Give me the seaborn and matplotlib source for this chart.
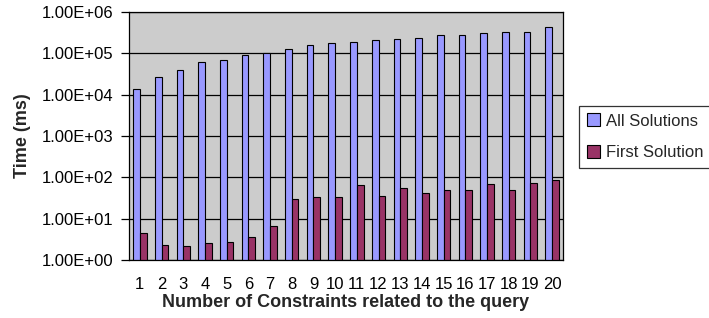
import numpy as np
import pandas as pd
import matplotlib
matplotlib.use("Agg")
import matplotlib.pyplot as plt
import seaborn as sns
from matplotlib.ticker import FixedLocator, FuncFormatter

categories = [str(i) for i in range(1, 21)]
all_solutions = [1.35e4, 2.75e4, 3.85e4, 6.3e4, 6.8e4, 9.3e4, 1.02e5, 1.28e5, 1.62e5, 1.74e5,
                 1.9e5, 2.05e5, 2.23e5, 2.4e5, 2.8e5, 2.8e5, 3.1e5, 3.3e5, 3.3e5, 4.3e5]
first_solution = [4.5, 2.36, 2.2, 2.6, 2.8, 3.6, 6.7, 30, 33, 33,
                  64, 36, 54, 42.5, 50, 50, 69, 50, 74, 88]
series_names = ["All Solutions", "First Solution"]
ytick_values = [1e0, 1e1, 1e2, 1e3, 1e4, 1e5, 1e6]

df = pd.DataFrame({
    "Constraints": categories * 2,
    "Time": all_solutions + first_solution,
    "Series": [series_names[0]] * len(categories) + [series_names[1]] * len(categories),
})

sns.set_theme(style="white")
plt.rcParams["font.family"] = ["Liberation Sans", "DejaVu Sans"]

fig = plt.figure(figsize=(7.09, 3.18), dpi=100)
ax = fig.add_axes([129 / 709, 1 - 260 / 318, (563 - 129) / 709, (260 - 12) / 318])
ax.set_facecolor("#CCCCCC")

sns.barplot(data=df, x="Constraints", y="Time", hue="Series", order=categories,
            hue_order=series_names, palette=["#9999FF", "#993366"],
            width=0.62, gap=0, edgecolor="black", linewidth=0.8,
            saturation=1, ax=ax, legend=True)

ax.set_yscale("log")
ax.set_ylim(1, 1e6)
ax.set_xlim(-0.5, len(categories) - 0.5)
ax.yaxis.set_major_locator(FixedLocator(ytick_values))
ax.yaxis.set_minor_locator(FixedLocator([]))
ax.yaxis.set_major_formatter(FuncFormatter(lambda v, p: "%.2fE+%02d" % (1.00, int(round(np.log10(v))))))
ax.grid(axis="y", which="major", color="black", linewidth=0.9)
ax.set_axisbelow(True)

ax.set_xticks(range(len(categories)))
ax.set_xticklabels(categories)
ax.set_xticks(np.arange(-0.5, len(categories), 1.0), minor=True)
ax.tick_params(axis="x", which="major", length=0, pad=12, labelsize=12, colors="black")
ax.tick_params(axis="x", which="minor", length=6, width=0.9, direction="out", color="black")
ax.tick_params(axis="y", which="major", length=6, width=0.9, direction="out", pad=5, labelsize=12, colors="black", left=True)

for s in ax.spines.values():
    s.set_color("black")
    s.set_linewidth(0.9)

ax.set_xlabel("Number of Constraints related to the query", fontsize=13, fontweight="bold", labelpad=2)
ax.set_ylabel("Time (ms)", fontsize=13, fontweight="bold", labelpad=8)

handles, labels = ax.get_legend_handles_labels()
ax.get_legend().remove()
leg = fig.legend(handles, labels, loc="upper left", bbox_to_anchor=(579 / 709, 1 - 106 / 318),
                 bbox_transform=fig.transFigure, borderaxespad=0, frameon=True, fancybox=False,
                 edgecolor="black", fontsize=12, labelspacing=1.0, handlelength=0.8,
                 handleheight=0.8, handletextpad=0.4, borderpad=0.45)
leg.get_frame().set_linewidth(0.9)

fig.savefig("out.png", dpi=100)
